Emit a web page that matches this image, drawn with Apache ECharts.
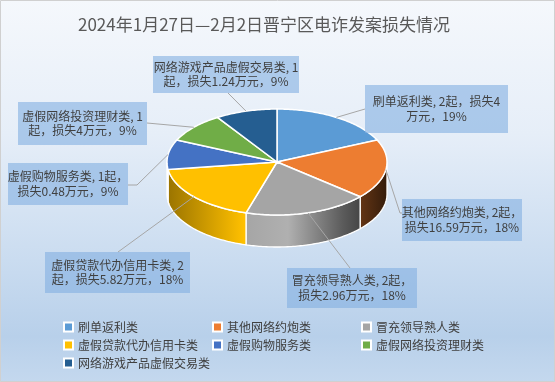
<!DOCTYPE html>
<html><head><meta charset="utf-8">
<script src="https://cdn.jsdelivr.net/npm/echarts@6/dist/echarts.min.js"></script>
<style>
html,body{margin:0;padding:0;}
#chart{width:555px;height:382px;background:linear-gradient(to bottom,#f5f8fc 0%,#e6eef8 35%,#cadcf0 68%,#b8d0ea 88%,#c4d8ee 100%);}
</style></head>
<body><div id="chart"></div>
<script>
// ---- data ----
const categories = ['刷单返利类','其他网络约炮类','冒充领导熟人类','虚假贷款代办信用卡类','虚假购物服务类','虚假网络投资理财类','网络游戏产品虚假交易类'];
const caseCounts = [2,2,2,2,1,1,1];
const lossAmounts = ['4','16.59','2.96','5.82','0.48','4','1.24'];
const percentLabels = ['19%','18%','18%','18%','9%','9%','9%'];
const titleText = '2024年1月27日—2月2日晋宁区电诈发案损失情况';

// ---- layout / style ----
const colors = ['#5B9BD5','#ED7D31','#A5A5A5','#FFC000','#4472C4','#70AD47','#255E91'];
const PIE = {cx:277, cy:162, rx:110, ry:53, depth:32};
const labelBoxes = [[365,85,143,48],[402,199,120,42],[287,268,130,40],[45,252,145,41],[8,163,120,42],[18,102,129,43],[153,56,146,37]];
const labelBreaks = [13,12,12,13,12,12,14];
const leaderEnds = [[[365,109]],[[400,213],[402,213]],[[350,268]],[[118,252]],[[137,185],[128,185]],[[147,123]],[[228,93]]];
const FONT = '"Noto Sans CJK SC","Noto Sans",sans-serif';

const total = caseCounts.reduce((a,b)=>a+b,0);
const starts = []; let acc = 0;
caseCounts.forEach(v=>{starts.push(acc/total*Math.PI*2); acc+=v;});

function ept(t, dy){ return [PIE.cx + PIE.rx*Math.sin(t), PIE.cy - PIE.ry*Math.cos(t) + (dy||0)]; }
function arc(a0,a1,dy){ const n=Math.max(2,Math.ceil((a1-a0)/(Math.PI/180))); const p=[]; for(let k=0;k<=n;k++) p.push(ept(a0+(a1-a0)*k/n,dy)); return p; }
function shade(hex,f){
  const r=parseInt(hex.slice(1,3),16),g=parseInt(hex.slice(3,5),16),b=parseInt(hex.slice(5,7),16);
  const m=c=>{let v=f<=1?c*f:c+(255-c)*(f-1); return Math.max(0,Math.min(255,Math.round(v)));};
  return 'rgb('+m(r)+','+m(g)+','+m(b)+')';
}

function makeRender(i){
  return function(params, api){
    const a0 = starts[i], a1 = starts[i] + caseCounts[i]/total*Math.PI*2;
    const col = colors[i];
    const children = [];
    const s = Math.max(a0, Math.PI/2), e = Math.min(a1, Math.PI*1.5);
    if (e > s) {
      const pts = arc(s,e,0).concat(arc(s,e,PIE.depth).reverse());
      children.push({type:'polygon', z2:1, shape:{points:pts}, style:{
        fill:{type:'linear', global:true, x:PIE.cx-PIE.rx, y:0, x2:PIE.cx+PIE.rx, y2:0, colorStops:[
          {offset:0,color:shade(col,0.6)},{offset:0.35,color:shade(col,1.0)},{offset:0.55,color:shade(col,1.12)},
          {offset:0.8,color:shade(col,0.55)},{offset:1,color:shade(col,0.22)}]},
        stroke:'#ffffff', lineWidth:1.3}});
    }
    children.push({type:'polygon', z2:10, shape:{points:[[PIE.cx,PIE.cy]].concat(arc(a0,a1,0))},
      style:{fill:col, stroke:'#ffffff', lineWidth:1.5}});
    const mid = (a0+a1)/2;
    children.push({type:'polyline', z2:20, shape:{points:[ept(mid,0)].concat(leaderEnds[i])},
      style:{fill:null, stroke:'#a6a6a6', lineWidth:1}});
    const b = labelBoxes[i];
    children.push({type:'rect', z2:30, shape:{x:b[0],y:b[1],width:b[2],height:b[3]},
      style:{fill:'rgba(130,175,225,0.6)'}});
    const full = categories[i] + ', ' + caseCounts[i] + '起，损失' + lossAmounts[i] + '万元，' + percentLabels[i];
    const txt = full.slice(0,labelBreaks[i]) + '\n' + full.slice(labelBreaks[i]);
    children.push({type:'text', z2:31, style:{text:txt, x:b[0]+b[2]/2, y:b[1]+b[3]/2, align:'center', verticalAlign:'middle',
      fontSize:12, fontFamily:FONT, lineHeight:14.5, fill:'#404040'}});
    return {type:'group', children:children};
  };
}

const chart = echarts.init(document.getElementById('chart'), null, {renderer:'canvas'});
const legendStyle = {orient:'vertical', top:316, itemWidth:9, itemHeight:9, itemGap:6, icon:'rect', selectedMode:false,
  itemStyle:{borderColor:'#ffffff', borderWidth:2},
  textStyle:{fontSize:12, fontFamily:FONT, color:'#404040', lineHeight:12}};
chart.setOption({
  animation:false,
  backgroundColor:'transparent',
  title:{text:titleText, left:73, top:11, textStyle:{fontSize:17, fontWeight:'normal', color:'#595959', fontFamily:FONT}},
  legend:[
    Object.assign({left:58, data:[categories[0],categories[3],categories[6]]}, legendStyle),
    Object.assign({left:207, data:[categories[1],categories[4]]}, legendStyle),
    Object.assign({left:356, data:[categories[2],categories[5]]}, legendStyle)
  ],
  graphic:[{type:'rect', shape:{x:0.5,y:0.5,width:554,height:381}, style:{fill:'none', stroke:'#d0d0d0', lineWidth:1}, silent:true}],
  series: categories.map((name,i)=>({type:'custom', name:name, coordinateSystem:'none', silent:true,
    itemStyle:{color:colors[i]}, data:[caseCounts[i]], renderItem:makeRender(i)}))
});
</script></body></html>
